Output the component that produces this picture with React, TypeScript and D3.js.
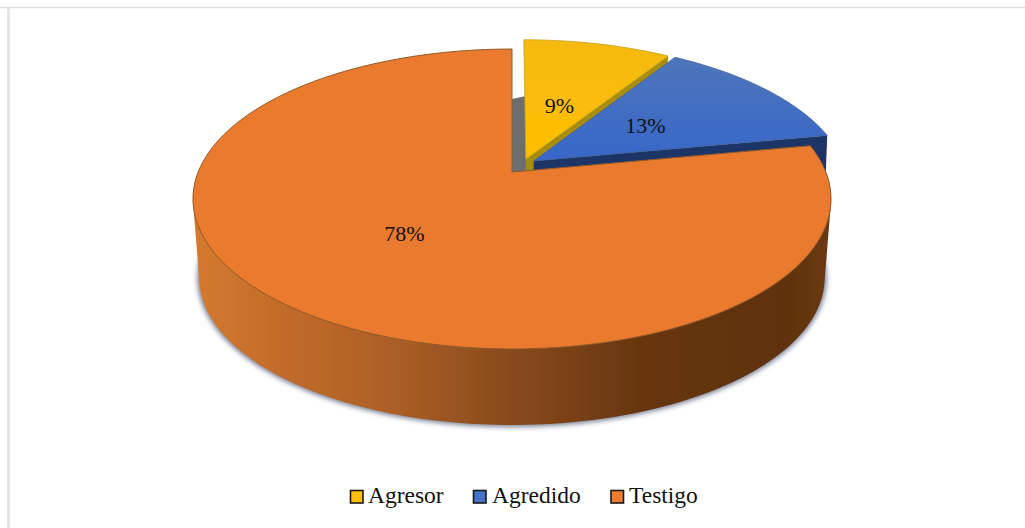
import React from "react";
import * as d3 from "d3";

const categories = ["Agresor", "Agredido", "Testigo"];
const shareValues = [9, 13, 78];
const shareLabels = ["9%", "13%", "78%"];

const W = 1025, H = 528;
const APEX_X = 512, APEX_Y = 172;
const SCALE_X = 313.8, SCALE_Y = 145.1, PERSPECTIVE = 0.18;
const DEPTH = 79, BOTTOM_SCALE = 0.98, BOTTOM_CX = 510.5, BOTTOM_CY = 199;
const SERIF = "'Liberation Serif','Times New Roman',serif";

const explode: [number, number][] = [[0.045, 0.09], [0.07, 0.077], [0, 0]];
const labelRadius = [0.43, 0.46, 0.5];
const labelShift = [1, 0, 2];
const topFill = ["url(#yellowTop)", "url(#blueTop)", "#ea7a2e"];
const wallFill = ["#a98e10", "#1c3566", "url(#orangeWall)"];
const edgeColor = ["#c9a21a", "#41619f", "#8f5a2c"];
const swatchFill = ["#ffc000", "#4472c4", "#ed7d31"];
const legendText = [368, 492, 629];
const legendBox = [350.5, 473.5, 611];

const project = (u: number, v: number): [number, number] => {
  const w = 1 + PERSPECTIVE * v;
  return [APEX_X + (SCALE_X * u) / w, APEX_Y - (SCALE_Y * v) / w];
};
const lowered = ([x, y]: [number, number]): [number, number] => [
  BOTTOM_CX + (x - BOTTOM_CX) * BOTTOM_SCALE,
  BOTTOM_CY + DEPTH + (y - BOTTOM_CY) * BOTTOM_SCALE,
];
const rimAt = (a: number, i: number): [number, number] =>
  project(explode[i][0] + Math.sin(a), explode[i][1] + Math.cos(a));
const arcSteps = (a0: number, a1: number) => {
  const n = Math.max(2, Math.ceil((a1 - a0) / 0.02));
  return d3.range(n + 1).map((k) => a0 + ((a1 - a0) * k) / n);
};
const line = d3.line<[number, number]>().x((d) => d[0]).y((d) => d[1]);

export default function App() {
  const arcs = d3.pie<number>().sort(null).startAngle(0).endAngle(2 * Math.PI)(shareValues);

  const tops = arcs.map((a, i) => {
    const apex = project(explode[i][0], explode[i][1]);
    return [apex, ...arcSteps(a.startAngle, a.endAngle).map((t) => rimAt(t, i))] as [number, number][];
  });

  // Orange outer wall: convex hull of the lower half of the top and bottom rims.
  const lowerArc = arcSteps(Math.PI / 2, (3 * Math.PI) / 2).map((t) => rimAt(t, 2));
  const wallHull = d3.polygonHull([...lowerArc, ...lowerArc.map(lowered)] as [number, number][])!;
  const bottomDisc = arcSteps(0, 2 * Math.PI).map((t) => lowered(rimAt(t, 2)));

  // Radial cut walls of the two exploded wedges.
  const cutWall = (i: number): [number, number][] => {
    const a = tops[i][0];
    const b = rimAt(arcs[i].endAngle, i);
    return [a, b, [b[0] - 3, b[1] + DEPTH], [a[0], a[1] + DEPTH]];
  };

  const grayTop = project(0, 0.57);
  const grayPoly: [number, number][] = [
    [APEX_X, grayTop[1] + 2],
    [tops[0][0][0], grayTop[1] - 1],
    [tops[0][0][0], APEX_Y],
    [APEX_X, APEX_Y],
  ];

  const labelPos = arcs.map((a, i) => {
    const m = (a.startAngle + a.endAngle) / 2;
    return project(explode[i][0] + labelRadius[i] * Math.sin(m), explode[i][1] + labelRadius[i] * Math.cos(m));
  });

  return (
    <svg width={W} height={H} style={{ position: "absolute", left: 0, top: 0, background: "#fff" }}>
      <defs>
        <linearGradient id="orangeWall" x1="0" x2="1" y1="0" y2="0">
          <stop offset="0" stopColor="#d67a30" />
          <stop offset="0.12" stopColor="#c46d2a" />
          <stop offset="0.3" stopColor="#ae6026" />
          <stop offset="0.48" stopColor="#8c4c1d" />
          <stop offset="0.7" stopColor="#673610" />
          <stop offset="0.93" stopColor="#5f3210" />
          <stop offset="1" stopColor="#6b3a12" />
        </linearGradient>
        <linearGradient id="blueTop" x1="0" x2="0" y1="0" y2="1">
          <stop offset="0" stopColor="#4f75ba" />
          <stop offset="1" stopColor="#3667c9" />
        </linearGradient>
        <linearGradient id="yellowTop" x1="0" x2="0" y1="0" y2="1">
          <stop offset="0" stopColor="#f5ba12" />
          <stop offset="1" stopColor="#ffbf00" />
        </linearGradient>
        <filter id="softShadow" x="-10%" y="-10%" width="120%" height="120%">
          <feGaussianBlur stdDeviation="2.4" />
        </filter>
        <filter id="soft" x="-5%" y="-5%" width="110%" height="110%">
          <feGaussianBlur stdDeviation="0.4" />
        </filter>
      </defs>

      <line x1={0} x2={W} y1={7.5} y2={7.5} stroke="#dedede" strokeWidth={1.5} />
      <line x1={8.5} x2={8.5} y1={7} y2={H} stroke="#e2e2e2" strokeWidth={2.5} />

      <path d={line(bottomDisc)! + "Z"} fill="#59607a" stroke="#59607a" strokeWidth={4} opacity={0.8} filter="url(#softShadow)" />
      <path d={line(grayPoly)! + "Z"} fill="#6e6e6e" filter="url(#soft)" />

      <g filter="url(#soft)">
        {[0, 1].map((i) => (
          <g key={categories[i]}>
            <path d={line(cutWall(i))! + "Z"} fill={wallFill[i]} />
            <path d={line(tops[i])! + "Z"} fill={topFill[i]} stroke={edgeColor[i]} strokeWidth={0.8} />
          </g>
        ))}
        <path d={line(wallHull)! + "Z"} fill={wallFill[2]} />
        <path d={line(tops[2])! + "Z"} fill={topFill[2]} stroke={edgeColor[2]} strokeWidth={1} />
      </g>

      {shareLabels.map((t, i) => (
        <text key={t} x={labelPos[i][0]} y={labelPos[i][1] + labelShift[i]} dy="0.33em" textAnchor="middle"
          fontFamily={SERIF} fontSize={22} fill="#111">{t}</text>
      ))}

      {categories.map((c, i) => (
        <g key={c}>
          <rect x={legendBox[i]} y={490.5} width={12.5} height={12.5} fill={swatchFill[i]} stroke="#1a1a1a" strokeWidth={1.6} />
          <text x={legendText[i]} y={503} fontFamily={SERIF} fontSize={23.5} fill="#111">{c}</text>
        </g>
      ))}
    </svg>
  );
}
